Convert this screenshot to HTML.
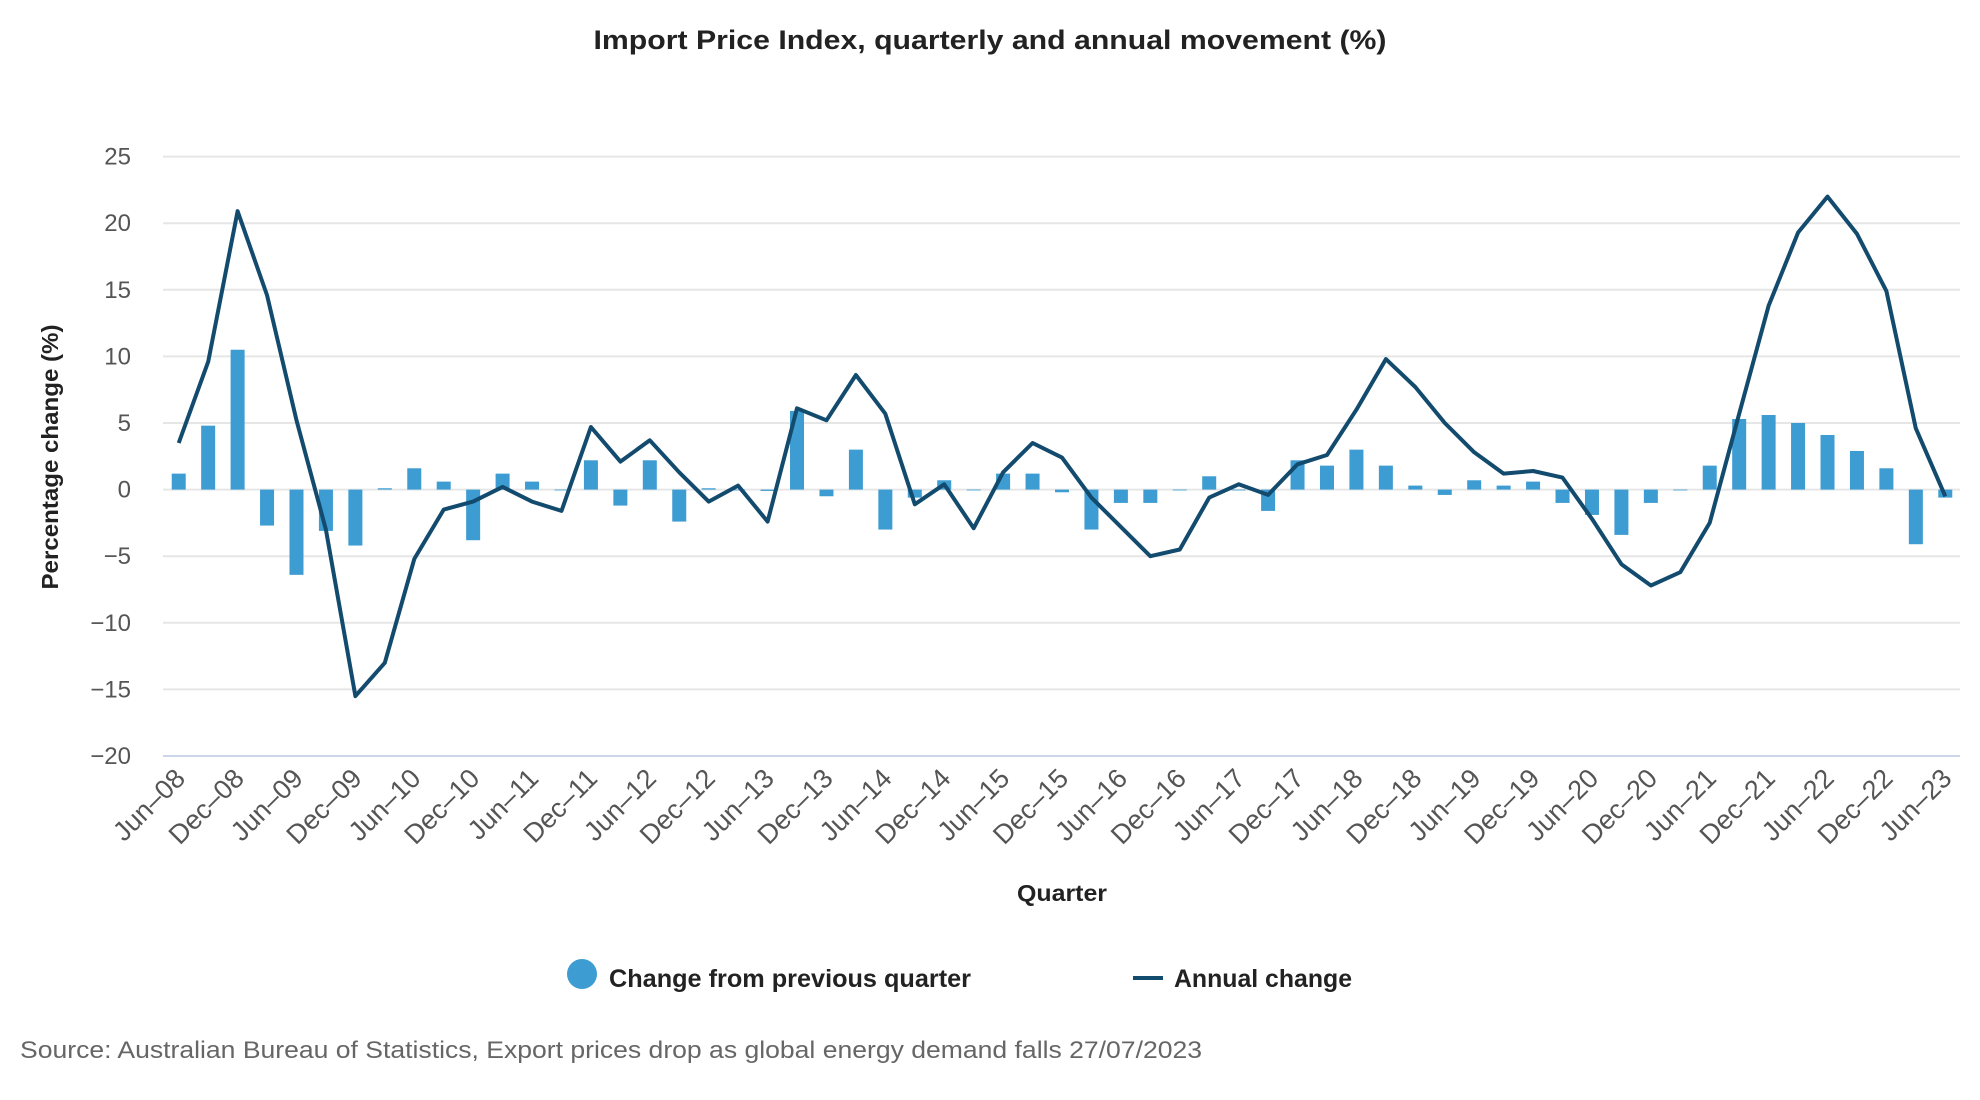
<!DOCTYPE html>
<html><head><meta charset="utf-8">
<style>
html,body{margin:0;padding:0;background:#fff;}
svg{display:block;font-family:"Liberation Sans",sans-serif;}
</style></head>
<body>
<svg id="chart" width="1980" height="1100" viewBox="0 0 1980 1100" xmlns="http://www.w3.org/2000/svg">
<text x="990" y="49" text-anchor="middle" font-size="27" font-weight="bold" fill="#222" textLength="793" lengthAdjust="spacingAndGlyphs">Import Price Index, quarterly and annual movement (%)</text>
<g id="grid"></g>
<g id="bars"></g>
<g id="line"></g>
<g id="xlabels"></g>
<text transform="translate(58,457) rotate(-90)" text-anchor="middle" font-size="23" font-weight="bold" fill="#222" textLength="265" lengthAdjust="spacingAndGlyphs">Percentage change (%)</text>
<text x="1062" y="901" text-anchor="middle" font-size="23" font-weight="bold" fill="#222" textLength="90" lengthAdjust="spacingAndGlyphs">Quarter</text>
<g>
<g>
<circle cx="582" cy="974" r="15" fill="#3d9cd1"/>
<text x="609" y="987" font-size="25" font-weight="bold" fill="#222" textLength="362" lengthAdjust="spacingAndGlyphs">Change from previous quarter</text>
</g>
<g>
<line x1="1133" y1="978" x2="1163" y2="978" stroke="#134b6e" stroke-width="4"/>
<text x="1174" y="987" font-size="25" font-weight="bold" fill="#222" textLength="178" lengthAdjust="spacingAndGlyphs">Annual change</text>
</g>
</g>
<text x="20" y="1058" font-size="24" fill="#666" textLength="1182" lengthAdjust="spacingAndGlyphs">Source: Australian Bureau of Statistics, Export prices drop as global energy demand falls 27/07/2023</text>
</svg>
<script>
const quarters = (function(){const m=["Mar","Jun","Sep","Dec"];const out=[];let mi=1,y=8;for(let i=0;i<61;i++){out.push(m[mi]+"–"+String(y).padStart(2,"0"));mi++;if(mi===4){mi=0;y++;}}return out;})();
const quarterlyChange = [1.2,4.8,10.5,-2.7,-6.4,-3.1,-4.2,0.1,1.6,0.6,-3.8,1.2,0.6,-0.05,2.2,-1.2,2.2,-2.4,0.1,0,-0.1,5.9,-0.5,3.0,-3.0,-0.6,0.7,0,1.2,1.2,-0.2,-3.0,-1.0,-1.0,0,1.0,0,-1.6,2.2,1.8,3.0,1.8,0.3,-0.4,0.7,0.3,0.6,-1.0,-1.9,-3.4,-1.0,0,1.8,5.3,5.6,5.0,4.1,2.9,1.6,-4.1,-0.6];
const annualChange = [3.5,9.6,20.9,14.6,5.2,-3.0,-15.5,-13.0,-5.2,-1.5,-0.9,0.2,-0.9,-1.6,4.7,2.1,3.7,1.3,-0.9,0.3,-2.4,6.1,5.2,8.6,5.7,-1.1,0.4,-2.9,1.3,3.5,2.4,-0.6,-2.8,-5.0,-4.5,-0.6,0.4,-0.4,1.9,2.6,6.0,9.8,7.7,5.0,2.8,1.2,1.4,0.9,-2.2,-5.6,-7.2,-6.2,-2.5,5.7,13.8,19.3,22.0,19.2,14.9,4.6,-0.5];
const yTicks = [25,20,15,10,5,0,-5,-10,-15,-20];
const NS="http://www.w3.org/2000/svg";
const L=164,R=1960,T=156.6,B=756;
const step=(R-L)/quarters.length;
function xs(i){return L+step*(i+0.5);}
function ys(v){return T+(25-v)/45*(B-T);}
function mk(tag,attrs,parent){const e=document.createElementNS(NS,tag);for(const k in attrs)e.setAttribute(k,attrs[k]);parent.appendChild(e);return e;}
const grid=document.getElementById('grid');
yTicks.forEach(v=>{
  const y=ys(v);
  const ln=mk('line',{x1:163,x2:1960,y1:y,y2:y,stroke:v===-20?'#ccd6eb':'#e6e6e6','stroke-width':2},grid);
  
  
  const t=mk('text',{x:131,y:y+8,'text-anchor':'end','font-size':24,fill:'#555'},grid);
  
  
  t.textContent=v<0?'−'+Math.abs(v):String(v);
});
const bars=document.getElementById('bars');
quarterlyChange.forEach((v,i)=>{
  const y0=ys(0),y1=ys(v);
  const r=mk('rect',{x:xs(i)-7,y:Math.min(y0,y1),width:14,height:Math.max(Math.abs(y1-y0),0.8),fill:'#3d9cd1'},bars);
  
  
});
const lg=document.getElementById('line');
const p=mk('path',{d:annualChange.map((v,i)=>(i?'L':'M')+xs(i).toFixed(1)+','+ys(v).toFixed(1)).join(' '),fill:'none',stroke:'#134b6e','stroke-width':4,'stroke-linejoin':'round'},lg);


const xl=document.getElementById('xlabels');
quarters.forEach((q,i)=>{
  if(i%2)return;
  const x=xs(i)+8,y=780;
  const t=mk('text',{x:x,y:y,'text-anchor':'end','font-size':27,fill:'#555',transform:'rotate(-45 '+x+' '+y+')'},xl);
  
  
  t.textContent=q;
});
</script>
</body></html>
